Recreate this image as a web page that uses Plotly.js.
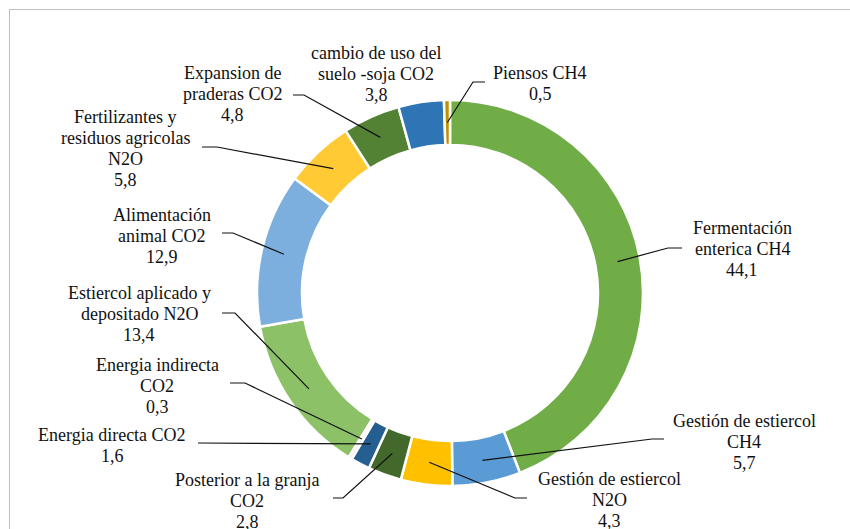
<!DOCTYPE html>
<html>
<head>
<meta charset="utf-8">
<script src="https://cdn.plot.ly/plotly-3.0.1.min.js"></script>
<style>
  html, body { margin: 0; padding: 0; background: #fff; }
  #chart { width: 850px; height: 529px; }
</style>
</head>
<body>
<div id="chart"></div>
<script>
// ---------- data ----------
const categories = [
  "Fermentación enterica CH4",
  "Gestión de estiercol CH4",
  "Gestión de estiercol N2O",
  "Posterior a la granja CO2",
  "Energia directa CO2",
  "Energia indirecta CO2",
  "Estiercol aplicado y depositado N2O",
  "Alimentación animal CO2",
  "Fertilizantes y residuos agricolas N2O",
  "Expansion de praderas CO2",
  "cambio de uso del suelo -soja CO2",
  "Piensos CH4"
];
const values = [44.1, 5.7, 4.3, 2.8, 1.6, 0.3, 13.4, 12.9, 5.8, 4.8, 3.8, 0.5];
const labelLines = [
  ["Fermentación", "enterica CH4"],
  ["Gestión de estiercol", "CH4"],
  ["Gestión de estiercol", "N2O"],
  ["Posterior a la granja", "CO2"],
  ["Energia directa CO2"],
  ["Energia indirecta", "CO2"],
  ["Estiercol aplicado y", "depositado N2O"],
  ["Alimentación", "animal CO2"],
  ["Fertilizantes y", "residuos agricolas", "N2O"],
  ["Expansion de", "praderas CO2"],
  ["cambio de uso del", "suelo -soja CO2"],
  ["Piensos CH4"]
];

// ---------- styles / layout ----------
const colors = ["#70AD47", "#5B9BD5", "#FFC000", "#43682B", "#255E91", "#E7E6E6",
                "#8CC168", "#7CAFDD", "#FFCA33", "#548235", "#2E75B6", "#BF9000"];
const W = 850, H = 529;
const CX = 450, CY = 293, R = 193, HOLE = 0.767;
const FONT = 18, LINE = 21;
const FAMILY = "Times New Roman, Liberation Serif, serif";
// label placement (pixel): centre x, first line y, leader elbow, leader end
const labelPos = [
  {x: 742, y: 228, elbow: [668, 248], end: [682, 248]},
  {x: 744, y: 421, elbow: [652, 439], end: [664, 439]},
  {x: 609, y: 479, elbow: [515, 498], end: [527, 498]},
  {x: 247, y: 480, elbow: [343, 498], end: [333, 498]},
  {x: 112, y: 435, elbow: [199, 443], end: [198, 443]},
  {x: 157, y: 365, elbow: [245, 383], end: [230, 383]},
  {x: 139, y: 293, elbow: [235, 313], end: [222, 313]},
  {x: 162, y: 215, elbow: [233, 233], end: [222, 233]},
  {x: 125, y: 117, elbow: [217, 147], end: [202, 147]},
  {x: 232, y: 73,  elbow: [304, 95],  end: [293, 95]},
  {x: 376, y: 53,  elbow: null, end: null},
  {x: 540, y: 73,  elbow: [473, 82],  end: [485, 82]}
];

const px = x => x / W;
const py = y => 1 - y / H;
const fmt = v => String(v.toFixed(1)).replace(".", ",");

const total = values.reduce((a, b) => a + b, 0);
const annotations = [];
const shapes = [];
let cum = 0;
values.forEach((v, i) => {
  const theta = 2 * Math.PI * (cum + v / 2) / total;
  cum += v;
  const rMid = R * (1 + HOLE) / 2;
  const ax = CX + rMid * Math.sin(theta);
  const ay = CY - rMid * Math.cos(theta);
  const lines = labelLines[i].concat([fmt(v)]);
  const pos = labelPos[i];
  lines.forEach((t, k) => {
    annotations.push({
      xref: "paper", yref: "paper",
      x: px(pos.x), y: py(pos.y + k * LINE),
      xanchor: "center", yanchor: "middle",
      text: t, showarrow: false,
      font: {family: FAMILY, size: FONT, color: "#111"}
    });
  });
  if (pos.elbow) {
    shapes.push({
      type: "path", xref: "paper", yref: "paper",
      path: `M ${px(ax)} ${py(ay)} L ${px(pos.elbow[0])} ${py(pos.elbow[1])} L ${px(pos.end[0])} ${py(pos.end[1])}`,
      line: {color: "#111", width: 1.2}
    });
  }
});

shapes.push({
  type: "rect", xref: "paper", yref: "paper",
  x0: px(9.5), y0: py(9.5), x1: px(W + 5), y1: py(H + 5),
  line: {color: "#BFBFBF", width: 1}, layer: "below"
});

const trace = {
  type: "pie",
  labels: categories,
  values: values,
  sort: false,
  direction: "clockwise",
  rotation: 0,
  hole: HOLE,
  textinfo: "none",
  hoverinfo: "label+value",
  marker: {colors: colors, line: {color: "#FFFFFF", width: 2.5}},
  domain: {x: [px(CX - R), px(CX + R)], y: [py(CY + R), py(CY - R)]},
  showlegend: false
};

const layout = {
  width: W, height: H,
  margin: {l: 0, r: 0, t: 0, b: 0},
  paper_bgcolor: "#fff",
  plot_bgcolor: "#fff",
  font: {family: FAMILY, size: FONT, color: "#111"},
  showlegend: false,
  annotations: annotations,
  shapes: shapes
};

Plotly.newPlot("chart", [trace], layout, {displayModeBar: false, staticPlot: true});
</script>
</body>
</html>
